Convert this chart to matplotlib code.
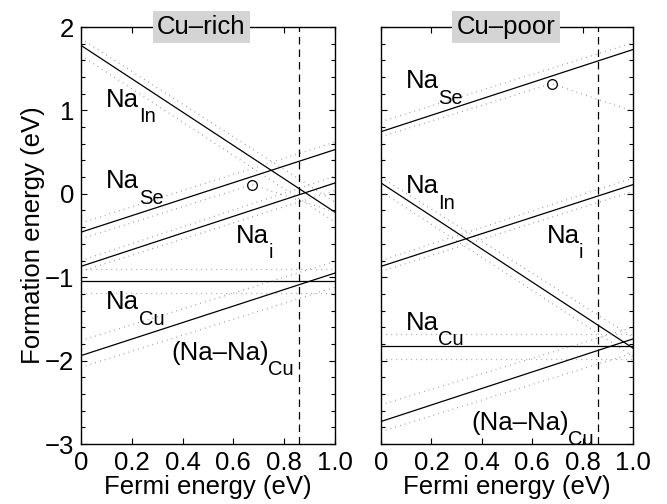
import numpy as np
import matplotlib
matplotlib.use('Agg')
import matplotlib.pyplot as plt
from matplotlib.ticker import MultipleLocator

plt.rcParams['font.family'] = ['Liberation Sans', 'DejaVu Sans']
plt.rcParams['font.size'] = 18.5

# Fermi energy range (eV) and band gap marker
fermi = [0.0, 1.0]
gap = 0.86

# order: Na_In, Na_Se, Na_i, Na_Cu, (Na-Na)_Cu
subs = ['In', 'Se', 'i', 'Cu', 'Cu']
mains = ['Na', 'Na', 'Na', 'Na', '(Na\u2013Na)']

# Cu-rich: formation energies at E_F = 0 and E_F = 1.0
rich_start = [1.78, -0.46, -0.87, -1.04, -1.94]
rich_end = [-0.22, 0.53, 0.13, -1.04, -0.95]
rich_hi_start = [1.86, -0.35, -0.80, -0.90, -1.76]
rich_hi_end = [-0.10, 0.62, 0.21, -0.90, -0.81]
rich_lo_start = [1.66, -0.54, -0.93, -1.19, -2.08]
rich_lo_end = [-0.34, -0.22, 0.04, -1.19, -1.12]
rich_level = (0.675, 0.11)   # transition level on the lower Na_Se line
rich_lab_x = [0.10, 0.10, 0.61, 0.10, 0.354]
rich_lab_y = [1.045, 0.066, -0.59, -1.385, -1.99]

# Cu-poor
poor_start = [0.13, 0.745, -0.87, -1.83, -2.73]
poor_end = [-1.85, 1.73, 0.11, -1.83, -1.74]
poor_hi_start = [0.20, 0.865, -0.80, -1.685, -2.53]
poor_hi_end = [-1.72, 1.81, 0.19, -1.685, -1.60]
poor_lo_start = [0.03, 0.685, -0.93, -1.985, -2.85]
poor_lo_end = [-1.95, 0.99, 0.03, -1.985, -1.91]
poor_level = (0.677, 1.32)
poor_lab_x = [0.10, 0.10, 0.658, 0.10, 0.357]
poor_lab_y = [0.005, 1.265, -0.59, -1.63, -2.83]

fig = plt.figure(figsize=(6.67, 5.04), dpi=100)
ax1 = fig.add_axes([0.1214, 0.119, 0.3808, 0.8274])
ax2 = fig.add_axes([0.5712, 0.119, 0.3778, 0.8274])
renderer = fig.canvas.get_renderer()


def label(ax, x, y, main, sub):
    t = ax.text(x, y, main, fontsize=18.5)
    w = t.get_window_extent(renderer=renderer).width * 72 / fig.dpi
    ax.annotate(sub, (x, y), xytext=(w - 0.5, -11), textcoords='offset points',
                fontsize=14.5)


def panel(ax, start, end, hi_s, hi_e, lo_s, lo_e, level, lab_x, lab_y, title, title_x):
    for i in range(len(start)):
        ax.plot(fermi, [start[i], end[i]], color='k', lw=0.9)
        ax.plot(fermi, [hi_s[i], hi_e[i]], color='0.45', lw=0.9, ls=(0, (0.5, 3.5)))
        if i == 1:
            # lower Na_Se bound bends at the transition level
            ax.plot([fermi[0], level[0], fermi[1]], [lo_s[i], level[1], lo_e[i]],
                    color='0.45', lw=0.9, ls=(0, (0.5, 3.5)))
        else:
            ax.plot(fermi, [lo_s[i], lo_e[i]], color='0.45', lw=0.9, ls=(0, (0.5, 3.5)))
        label(ax, lab_x[i], lab_y[i], mains[i], subs[i])
    ax.plot(level[0], level[1], 'o', mfc='none', mec='k', ms=7, mew=0.9)
    ax.axvline(gap, color='k', lw=0.9, ls=(0, (6, 4)))

    ax.set_xlim(0, 1)
    ax.set_ylim(-3, 2)
    ax.set_xticks([0, 0.2, 0.4, 0.6, 0.8, 1.0])
    ax.set_xticklabels(['0', '0.2', '0.4', '0.6', '0.8', '1.0'])
    ax.yaxis.set_major_locator(MultipleLocator(1))
    ax.yaxis.set_minor_locator(MultipleLocator(0.2))
    ax.tick_params(which='both', direction='in', top=True, right=True, width=0.8, pad=5)
    ax.tick_params(which='major', length=4.5)
    ax.tick_params(which='minor', length=3)
    for s in ax.spines.values():
        s.set_linewidth(1.0)
    ax.set_xlabel('Fermi energy (eV)', labelpad=0)
    ax.text(title_x, 1.0, title, transform=ax.transAxes, ha='center', va='center',
            fontsize=18.5, zorder=10, clip_on=False,
            bbox=dict(boxstyle='square,pad=0.17', fc='#d4d4d4', ec='none'))


panel(ax1, rich_start, rich_end, rich_hi_start, rich_hi_end, rich_lo_start,
      rich_lo_end, rich_level, rich_lab_x, rich_lab_y, 'Cu\u2013rich', 0.474)
panel(ax2, poor_start, poor_end, poor_hi_start, poor_hi_end, poor_lo_start,
      poor_lo_end, poor_level, poor_lab_x, poor_lab_y, 'Cu\u2013poor', 0.497)

ax1.set_ylabel('Formation energy (eV)', labelpad=0)
ax2.set_yticklabels([])

fig.savefig('out.png', dpi=100)
